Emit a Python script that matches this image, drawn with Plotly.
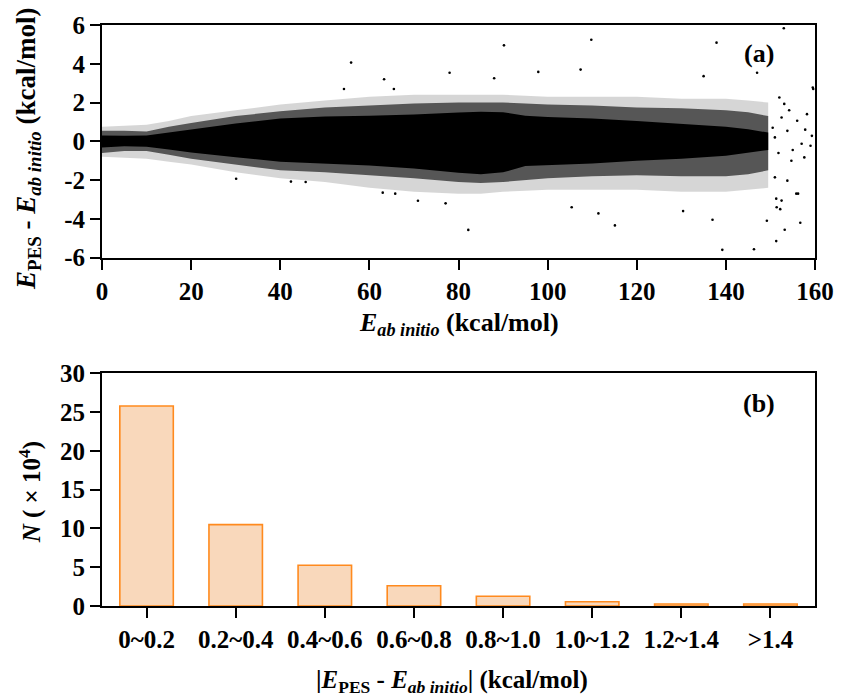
import plotly.graph_objects as go

# ---------------- data: panel (a) ----------------
# envelope of the dense point cloud
env_x = [0, 5, 10, 15, 20, 30, 40, 50, 60, 70, 80, 85, 90, 95, 100, 110, 120, 130, 140, 145, 149.5]
core_upper = [0.30, 0.28, 0.30, 0.45, 0.60, 0.92, 1.18, 1.28, 1.32, 1.38, 1.48, 1.52, 1.50, 1.32, 1.25, 1.18, 1.05, 0.90, 0.75, 0.62, 0.45]
core_lower = [-0.32, -0.25, -0.28, -0.42, -0.58, -0.82, -1.05, -1.15, -1.25, -1.40, -1.62, -1.70, -1.60, -1.28, -1.22, -1.15, -1.00, -0.90, -0.75, -0.60, -0.45]
mid_upper = [0.55, 0.55, 0.50, 0.75, 0.95, 1.30, 1.55, 1.75, 1.85, 1.95, 2.00, 2.00, 2.00, 1.95, 1.90, 1.85, 1.75, 1.70, 1.60, 1.50, 1.30]
mid_lower = [-0.60, -0.50, -0.50, -0.70, -0.90, -1.20, -1.50, -1.60, -1.75, -1.90, -2.10, -2.15, -2.10, -2.00, -1.90, -1.80, -1.75, -1.80, -1.80, -1.70, -1.50]
outer_upper = [0.75, 0.80, 0.85, 1.05, 1.30, 1.60, 1.90, 2.10, 2.30, 2.40, 2.40, 2.40, 2.40, 2.35, 2.30, 2.30, 2.30, 2.20, 2.20, 2.10, 2.00]
outer_lower = [-0.80, -0.85, -0.90, -1.05, -1.20, -1.60, -1.90, -2.10, -2.40, -2.60, -2.70, -2.70, -2.60, -2.55, -2.50, -2.50, -2.50, -2.60, -2.60, -2.50, -2.40]

# isolated points
out_x = [55.9, 63.3, 54.3, 30.1, 65.5, 42.4, 45.7, 63.0, 65.8,
         153.0, 109.8, 90.2, 137.9, 78.0, 88.0, 97.9, 107.4, 135.0, 147.0, 159.6,
         82.2, 139.2, 146.3, 151.3, 156.7, 137.0, 130.4, 115.1, 111.4, 153.2, 149.2,
         156.2, 70.9, 77.1, 105.4, 152.2, 151.3,
         151.0, 153.8, 157.0, 159.0, 152.5, 156.0, 158.2, 152.0, 157.6, 154.7, 151.0,
         153.8, 155.8, 152.5, 151.4, 153.1, 159.3, 159.5, 150.5, 155.0, 157.8, 151.8, 154.2]
out_y = [4.06, 3.20, 2.70, -1.93, 2.70, -2.08, -2.10, -2.65, -2.70,
         5.83, 5.24, 4.95, 5.09, 3.54, 3.25, 3.58, 3.70, 3.36, 3.54, 2.70,
         -4.57, -5.60, -5.57, -5.15, -4.20, -4.05, -3.60, -4.34, -3.72, -4.56, -4.10,
         -2.70, -3.07, -3.20, -3.40, -3.50, -2.96,
         0.20, 0.54, -0.13, -0.23, 1.23, 1.06, 1.40, 2.26, -0.83, -1.00, -1.86,
         -2.03, -2.70, -3.06, -3.40, 1.93, 0.28, 2.77, 0.70, -0.45, 0.60, -0.60, 1.60]

# ---------------- data: panel (b) ----------------
bins = ["0~0.2", "0.2~0.4", "0.4~0.6", "0.6~0.8", "0.8~1.0", "1.0~1.2", "1.2~1.4", ">1.4"]
counts = [25.8, 10.5, 5.25, 2.62, 1.25, 0.55, 0.26, 0.26]

x_ticks_a = [0, 20, 40, 60, 80, 100, 120, 140, 160]
y_ticks_a = [-6, -4, -2, 0, 2, 4, 6]
y_ticks_b = [0, 5, 10, 15, 20, 25, 30]

FONT = "Liberation Serif"
fig = go.Figure()


def band(upper, lower, color):
    return go.Scatter(
        x=env_x + env_x[::-1], y=upper + lower[::-1],
        fill="toself", fillcolor=color, mode="lines", line=dict(width=0, color=color),
        hoverinfo="skip", showlegend=False, xaxis="x", yaxis="y")


fig.add_trace(band(outer_upper, outer_lower, "rgba(0,0,0,0.16)"))
fig.add_trace(band(mid_upper, mid_lower, "rgba(0,0,0,0.6)"))
fig.add_trace(band(core_upper, core_lower, "rgb(0,0,0)"))
fig.add_trace(go.Scatter(x=out_x, y=out_y, mode="markers",
                         marker=dict(size=2.6, color="black"),
                         showlegend=False, xaxis="x", yaxis="y"))

fig.add_trace(go.Bar(x=bins, y=counts, width=0.6,
                     marker=dict(color="#F9D8BB", line=dict(color="#FF8A1E", width=1.6)),
                     showlegend=False, xaxis="x2", yaxis="y2"))


def bold(vals):
    return ["<b>%s</b>" % v for v in vals]


def axis(**kw):
    d = dict(showline=True, linecolor="black", linewidth=2, mirror=True,
             ticks="outside", ticklen=10, tickwidth=2, tickcolor="black",
             showgrid=False, zeroline=False,
             tickfont=dict(family=FONT, size=25, color="black"))
    d.update(kw)
    return d


H_TOP = (606 - 257) / 582
fig.update_layout(
    width=846, height=698,
    margin=dict(l=102, r=20, t=24, b=92),
    paper_bgcolor="white", plot_bgcolor="white",
    font=dict(family=FONT, color="black", size=25),
    xaxis=axis(domain=[0, 1], range=[0, 160], tickmode="array", tickvals=x_ticks_a,
               ticktext=bold(x_ticks_a), anchor="y"),
    yaxis=axis(domain=[H_TOP, 1], range=[-6, 6], tickmode="array", tickvals=y_ticks_a,
               ticktext=bold(y_ticks_a), anchor="x"),
    xaxis2=axis(domain=[0, 1], range=[-0.5, 7.5], tickmode="array", tickvals=bins,
                ticktext=bold(bins), anchor="y2"),
    yaxis2=axis(domain=[0, (606 - 373) / 582], range=[0, 30], tickmode="array",
                tickvals=y_ticks_b, ticktext=bold(y_ticks_b), anchor="x2"),
)


def px2paper(px, py):
    return (px - 102) / 724, (606 - py) / 582


def ann(text, px, py, size=26, angle=0):
    x, y = px2paper(px, py)
    fig.add_annotation(text=text, x=x, y=y, xref="paper", yref="paper",
                       showarrow=False, textangle=angle, xanchor="center", yanchor="middle",
                       font=dict(family=FONT, size=size, color="black"))


ann("<b><i>E</i><sub><i>ab initio</i></sub> (kcal/mol)</b>", 464, 324)
ann("<b><i>E</i><sub>PES</sub> - <i>E</i><sub><i>ab initio</i></sub> (kcal/mol)</b>", 27, 148, size=27, angle=-90)
ann("<b>(a)</b>", 769, 53)
ann("<b><i>N</i> ( × 10<sup>4</sup>)</b>", 29, 492, size=25, angle=-90)
ann("<b>|<i>E</i><sub>PES</sub> - <i>E</i><sub><i>ab initio</i></sub>| (kcal/mol)</b>", 457, 682, size=25)
ann("<b>(b)</b>", 769, 403)

fig.write_html("out.html")
